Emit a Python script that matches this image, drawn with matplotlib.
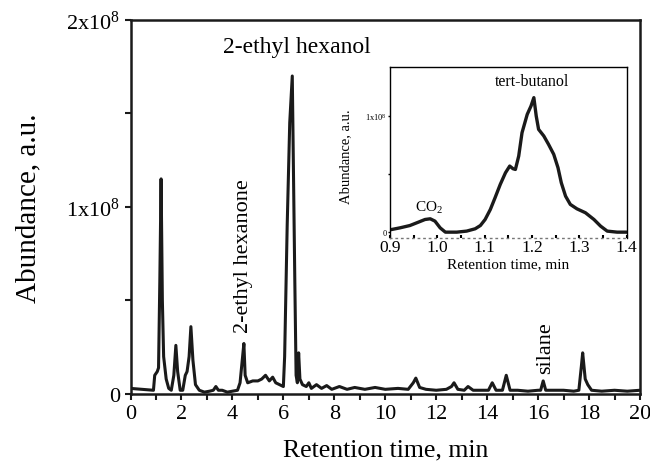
import matplotlib
matplotlib.use("Agg")
import matplotlib.pyplot as plt
from matplotlib.ticker import MultipleLocator

# ---- Main chromatogram (abundance in units of 1e8) ----
ret_time = [0.0, 0.9, 0.95, 1.05, 1.1, 1.15, 1.2, 1.25, 1.3, 1.4, 1.5, 1.6, 1.7, 1.78, 1.85,
            1.95, 2.05, 2.15, 2.22, 2.3, 2.37, 2.45, 2.55, 2.7, 2.9, 3.1, 3.25, 3.35, 3.45,
            3.6, 3.8, 4.0, 4.2, 4.3, 4.4, 4.45, 4.5, 4.6, 4.8, 5.0, 5.15, 5.3, 5.45, 5.58,
            5.7, 5.85, 6.0, 6.05, 6.15, 6.25, 6.35, 6.45, 6.5, 6.55, 6.6, 6.65, 6.75, 6.9,
            7.0, 7.1, 7.3, 7.5, 7.7, 7.9, 8.2, 8.5, 8.8, 9.2, 9.6, 10.0, 10.5, 10.9, 11.1,
            11.2, 11.35, 11.6, 12.0, 12.4, 12.6, 12.7, 12.85, 13.1, 13.25, 13.45, 13.8,
            14.05, 14.2, 14.35, 14.6, 14.75, 14.9, 15.2, 15.6, 16.0, 16.1, 16.2, 16.3, 16.6,
            17.0, 17.4, 17.6, 17.7, 17.75, 17.85, 17.95, 18.1, 18.5, 19.0, 19.5, 20.0]
abundance = [0.03, 0.02, 0.10, 0.12, 0.14, 0.60, 1.15, 0.50, 0.20, 0.08, 0.03, 0.02, 0.10,
             0.26, 0.12, 0.02, 0.02, 0.10, 0.12, 0.20, 0.36, 0.18, 0.05, 0.02, 0.01, 0.015,
             0.02, 0.04, 0.02, 0.02, 0.01, 0.015, 0.02, 0.06, 0.20, 0.27, 0.10, 0.06, 0.07,
             0.07, 0.08, 0.10, 0.07, 0.09, 0.06, 0.05, 0.04, 0.20, 0.90, 1.45, 1.70, 0.60,
             0.10, 0.06, 0.22, 0.08, 0.05, 0.04, 0.06, 0.03, 0.05, 0.03, 0.045, 0.025, 0.04,
             0.025, 0.035, 0.025, 0.035, 0.025, 0.03, 0.025, 0.06, 0.085, 0.035, 0.025, 0.02,
             0.025, 0.04, 0.06, 0.025, 0.02, 0.04, 0.02, 0.02, 0.02, 0.06, 0.02, 0.02, 0.10,
             0.02, 0.02, 0.015, 0.02, 0.02, 0.07, 0.02, 0.02, 0.02, 0.015, 0.02, 0.15, 0.22,
             0.08, 0.05, 0.02, 0.015, 0.02, 0.015, 0.02]

main_xticks = [0, 2, 4, 6, 8, 10, 12, 14, 16, 18, 20]
main_yticks = [0, 1, 2]
main_yticklabels = ["0", r"1x10$^{8}$", r"2x10$^{8}$"]

# ---- Inset (abundance in units of 1e8) ----
inset_time = [0.9, 0.921, 0.942, 0.960, 0.974, 0.985, 0.995, 1.006, 1.017, 1.041, 1.062,
              1.080, 1.091, 1.101, 1.112, 1.122, 1.133, 1.144, 1.153, 1.160, 1.165, 1.172,
              1.179, 1.190, 1.198, 1.204, 1.209, 1.214, 1.225, 1.235, 1.246, 1.255, 1.262,
              1.271, 1.281, 1.295, 1.313, 1.331, 1.345, 1.359, 1.380, 1.4]
inset_abund = [0.02, 0.037, 0.057, 0.086, 0.109, 0.115, 0.095, 0.037, 0.0, 0.0, 0.009,
               0.029, 0.057, 0.109, 0.195, 0.296, 0.411, 0.511, 0.569, 0.546, 0.540, 0.655,
               0.856, 1.014, 1.086, 1.158, 1.0, 0.885, 0.828, 0.756, 0.670, 0.555, 0.425,
               0.310, 0.239, 0.201, 0.167, 0.109, 0.052, 0.009, 0.0, 0.0]
inset_xticks = [0.9, 1.0, 1.1, 1.2, 1.3, 1.4]
inset_yticks = [0, 1]
inset_yticklabels = ["0", r"1x10$^{8}$"]

plt.rcParams['font.family'] = ['Liberation Serif', 'DejaVu Serif']
plt.rcParams['mathtext.fontset'] = 'custom'
plt.rcParams['mathtext.rm'] = 'Liberation Serif'
plt.rcParams['mathtext.it'] = 'Liberation Serif:italic'

fig = plt.figure(figsize=(6.5, 4.64), dpi=100)
ax = fig.add_axes([0.2008, 0.1487, 0.7838, 0.8063])
ax.plot(ret_time, abundance, color='#1a1a1a', lw=2.2, solid_joinstyle='round')
ax.set_xlim(0, 20)
ax.set_ylim(0, 2)
ax.set_xticks(main_xticks)
ax.xaxis.set_minor_locator(MultipleLocator(1))
ax.set_yticks(main_yticks)
ax.set_yticklabels(main_yticklabels)
ax.yaxis.set_minor_locator(MultipleLocator(0.5))
ax.tick_params(axis='both', which='both', direction='out', length=4, width=1.5,
               labelsize=16, color='#1a1a1a')
for s in ax.spines.values():
    s.set_linewidth(1.8)
    s.set_color('#1a1a1a')
ax.set_xlabel("Retention time, min", fontsize=18.5, labelpad=11)
ax.set_ylabel("Abundance, a.u.", fontsize=21, labelpad=18)

ax.text(6.54, 1.86, "2-ethyl hexanol", fontsize=17, ha='center', va='center')
ax.text(4.42, 0.745, "2-ethyl hexanone", fontsize=16, rotation=90, ha='center', va='center')
ax.text(16.29, 0.25, "silane", fontsize=16, rotation=90, ha='center', va='center')

# inset
ins = fig.add_axes([0.6, 0.485, 0.364, 0.368])
ins.plot(inset_time, inset_abund, color='#1a1a1a', lw=2.4, solid_joinstyle='round',
         solid_capstyle='round')
ins.set_xlim(0.9, 1.4)
ins.set_ylim(-0.05, 1.42)
ins.set_xticks(inset_xticks)
ins.set_xticklabels([f"{v:.1f}" for v in inset_xticks])
ins.xaxis.set_minor_locator(MultipleLocator(0.05))
ins.set_yticks(inset_yticks)
ins.set_yticklabels(inset_yticklabels)
ins.yaxis.set_minor_locator(MultipleLocator(0.5))
ins.tick_params(axis='x', which='both', direction='in', length=2.5, width=1.5,
                labelsize=12.5, pad=1)
ins.tick_params(axis='y', which='both', direction='out', length=1.5, width=1,
                labelsize=6, pad=1)
for name, s in ins.spines.items():
    s.set_linewidth(1.0)
ins.spines['bottom'].set_linestyle((0, (1, 3)))
ins.spines['bottom'].set_color('#777777')
ins.set_xlabel("Retention time, min", fontsize=11, labelpad=1)
ins.set_ylabel("Abundance, a.u.", fontsize=10.5)
ins.yaxis.set_label_coords(-0.16, 0.48)
ins.text(0.983, 0.22, r"CO$_2$", fontsize=11, ha='center', va='center')
ins.text(1.2, 1.3, "tert-butanol", fontsize=11.5, ha='center', va='center')

fig.savefig("out.png", dpi=100)
